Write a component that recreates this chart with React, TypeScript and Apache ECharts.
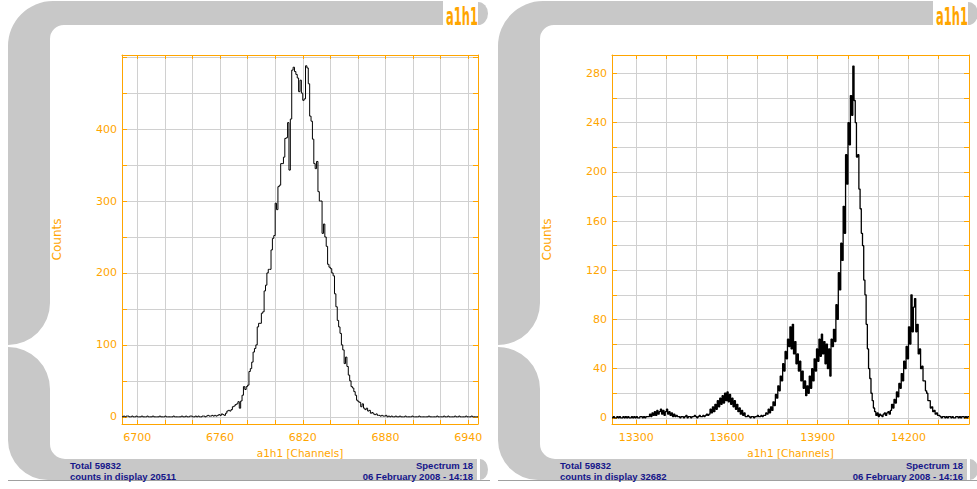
import React, { useEffect, useRef } from "react";
import * as echarts from "echarts";

// ---------- data ----------
const leftStart = 6689; // first channel of left spectrum (1 channel per bin)
const leftCounts = [
  0, 1, 0, 1, 1, 0, 0, 1, 0, 0,
  1, 0, 0, 0, 1, 0, 0, 0, 1, 0,
  0, 0, 1, 0, 0, 0, 0, 1, 0, 0,
  0, 1, 0, 0, 0, 0, 0, 1, 0, 0,
  0, 0, 0, 1, 0, 0, 1, 0, 0, 1,
  1, 0, 0, 1, 0, 1, 0, 0, 1, 1,
  0, 1, 2, 1, 1, 2, 1, 2, 1, 2,
  3, 2, 4, 3, 2, 5, 8, 9, 8, 10,
  14, 15, 17, 18, 21, 12, 22, 30, 42, 38,
  42, 44, 63, 67, 76, 90, 95, 100, 125, 130,
  130, 144, 146, 175, 183, 200, 205, 205, 232, 248,
  252, 297, 288, 320, 322, 352, 352, 361, 387, 388,
  409, 343, 414, 482, 486, 480, 476, 471, 452, 468,
  450, 440, 442, 488, 485, 463, 418, 411, 386, 352,
  345, 355, 313, 300, 300, 255, 268, 250, 237, 212,
  208, 206, 200, 196, 171, 153, 134, 125, 116, 100,
  93, 74, 83, 70, 58, 50, 42, 40, 35, 30,
  23, 21, 20, 14, 18, 12, 10, 12, 8, 9,
  5, 6, 4, 3, 4, 2, 2, 1, 2, 1,
  1, 2, 0, 1, 0, 1, 0, 0, 1, 0,
  0, 1, 0, 0, 0, 1, 0, 0, 0, 0,
  1, 0, 0, 0, 0, 1, 0, 0, 0, 0,
  0, 0, 1, 0, 0, 0, 0, 0, 1, 0,
  0, 0, 0, 1, 0, 0, 1, 0, 0, 0,
  0, 1, 0, 0, 1, 0, 0, 0, 0, 1,
  0, 0, 0, 1, 0, 0, 0, 0,
];

const rightStart = 13220; // first channel of right spectrum
const rightBinWidth = 4; // channels per plotted bin
const rightCounts = [
  // 13220 - 13336
  0, 1, 0, 0, 1, 0, 1, 0, 0, 1, 0, 1, 0, 1, 0, 0, 1, 0, 1, 0, 1, 0, 0, 1, 1, 0, 1, 0, 1, 1,
  // 13340 - 13436
  1, 3, 1, 4, 2, 5, 2, 6, 3, 5, 7, 3, 6, 2, 5, 7, 3, 5, 2, 4, 1, 3, 1, 2, 1,
  // 13440 - 13536
  1, 0, 1, 1, 0, 1, 2, 0, 1, 1, 0, 1, 1, 2, 1, 0, 1, 2, 1, 1, 2, 1, 2, 3, 2,
  // 13540 - 13660
  3, 7, 4, 9, 5, 11, 7, 14, 9, 16, 11, 18, 12, 20, 14, 21, 13, 19, 11, 16, 9, 14, 7, 11, 5, 8, 3, 6, 2, 4, 1,
  // 13664 - 13720
  1, 2, 1, 0, 1, 1, 0, 1, 1, 2, 1, 1, 2, 1, 2,
  // 13724 - 13800
  2, 4, 3, 7, 4, 9, 6, 13, 10, 19, 16, 26, 22, 34, 30, 44, 38, 54, 48, 64,
  // 13804 - 13860
  58, 74, 56, 76, 52, 62, 44, 52, 38, 46, 30, 38, 24, 30, 18,
  // 13864 - 13948
  26, 20, 34, 24, 40, 30, 48, 38, 56, 46, 64, 50, 68, 52, 62, 44, 60, 40, 56, 34, 64, 58,
  // 13952 - 14060
  72, 62, 92, 80, 118, 104, 142, 128, 172, 150, 214, 190, 240, 222, 262, 246, 286, 258, 240, 212, 214, 186, 170, 150, 140, 112, 100, 76,
  // 14064 - 14136
  56, 40, 32, 20, 14, 8, 5, 2, 4, 1, 3, 2, 1, 3, 4, 2, 4, 5, 3,
  // 14140 - 14300
  6, 11, 8, 15, 12, 21, 17, 28, 24, 36, 30, 46, 40, 58, 48, 74, 60, 100, 70, 90, 97, 70, 76, 52, 56, 40, 42, 30, 30, 22, 20, 14, 14, 8, 9, 5, 6, 3, 4, 2, 2,
  // 14304 - 14396
  1, 0, 1, 1, 0, 1, 0, 1, 1, 0, 1, 0, 0, 1, 1, 0, 1, 0, 1, 1, 0, 1, 0, 1,
];

const leftXRange = [6689, 6947];
const leftYRange = [-10, 503];
const rightXRange = [13220, 14400];
const rightYRange = [-5, 295];
const leftXStep = 20;
const leftYStep = 50;
const rightXStep = 100;
const rightYStep = 20;
const leftXLabels = [6700, 6760, 6820, 6880, 6940];
const leftYLabels = [0, 100, 200, 300, 400];
const rightXLabels = [13300, 13600, 13900, 14200];
const rightYLabels = [0, 40, 80, 120, 160, 200, 240, 280];

const xAxisTitle = "a1h1 [Channels]";
const yAxisTitle = "Counts";
const logoText = "a1h1";
const panelInfo = [
  { total: "Total 59832", display: "counts in display 20511", spectrum: "Spectrum 18", date: "06 February 2008 - 14:18" },
  { total: "Total 59832", display: "counts in display 32682", spectrum: "Spectrum 18", date: "06 February 2008 - 14:16" },
];

// ---------- styling ----------
const ORANGE = "#ffa500";
const FRAME_GRAY = "#c8c8c8";
const NAVY = "#15168a";
const GRID_GRAY = "#d0d0d0";
const PANEL_OFFSETS = [0, 490];

const FRAME_UPPER =
  "M8,345 L8,46 A45,45 0 0 1 53,1 L443,1 L443,25 L64,25 A14,14 0 0 0 50,39 L50,303 A42,42 0 0 1 8,345 Z";
const FRAME_LOWER =
  "M8,347 A42,42 0 0 1 50,389 L50,444 A15,15 0 0 0 65,459 L477,459 L477,480 L48,480 A40,40 0 0 1 8,440 Z";
const D_TOP = "M478,2 A10,11.5 0 0 1 478,25 Z";
const D_BOTTOM = "M480,459 A8,10.5 0 0 1 480,480 Z";

let shapesRegistered = false;
function registerShapes() {
  if (shapesRegistered) return;
  echarts.graphic.registerShape("frameUpper", echarts.graphic.extendPath(FRAME_UPPER, {}));
  echarts.graphic.registerShape("frameLower", echarts.graphic.extendPath(FRAME_LOWER, {}));
  echarts.graphic.registerShape("dTop", echarts.graphic.extendPath(D_TOP, {}));
  echarts.graphic.registerShape("dBottom", echarts.graphic.extendPath(D_BOTTOM, {}));
  shapesRegistered = true;
}

function histData(start: number, width: number, counts: number[]) {
  const d = counts.map((v, i) => [start + i * width, v]);
  d.push([start + counts.length * width, counts[counts.length - 1]]);
  return d;
}

function labelFormatter(labels: number[]) {
  return (v: number) => (labels.indexOf(v) >= 0 ? String(v) : "");
}

function makeAxis(o: {
  gridIndex: number;
  position: string;
  range: number[];
  step: number;
  labels?: number[];
  name?: string;
  nameGap?: number;
  nameSize?: number;
  split: boolean;
  tickLen: number;
  labelMargin?: number;
}) {
  const span = o.range[1] - o.range[0];
  return {
    type: "value",
    gridIndex: o.gridIndex,
    position: o.position,
    min: o.range[0],
    max: o.range[1],
    minInterval: o.step,
    maxInterval: o.step,
    splitNumber: Math.round(span / o.step),
    axisLine: { show: true, onZero: false, lineStyle: { color: ORANGE, width: 1 } },
    axisTick: { show: true, inside: true, length: o.tickLen, lineStyle: { color: ORANGE, width: 1 } },
    axisLabel: o.labels
      ? {
          show: true,
          color: ORANGE,
          fontFamily: "DejaVu Sans",
          fontSize: 11,
          margin: o.labelMargin ?? 8,
          formatter: labelFormatter(o.labels),
        }
      : { show: false },
    splitLine: o.split ? { show: true, lineStyle: { color: GRID_GRAY, width: 1 } } : { show: false },
    name: o.name,
    nameLocation: "middle",
    nameGap: o.nameGap ?? 20,
    nameTextStyle: { color: ORANGE, fontFamily: "DejaVu Sans", fontSize: o.nameSize ?? 11 },
  };
}

function panelGraphics(ox: number, info: typeof panelInfo[number]) {
  const textFont = 'bold 9.5px "Liberation Sans"';
  return [
    { type: "frameUpper", x: ox, y: 0, silent: true, style: { fill: FRAME_GRAY } },
    { type: "frameLower", x: ox, y: 0, silent: true, style: { fill: FRAME_GRAY } },
    { type: "dTop", x: ox, y: 0, silent: true, style: { fill: FRAME_GRAY } },
    { type: "dBottom", x: ox, y: 0, silent: true, style: { fill: FRAME_GRAY } },
    {
      type: "line",
      silent: true,
      shape: { x1: ox + 8, y1: 480.5, x2: ox + 490, y2: 480.5 },
      style: { stroke: "#a0a0a0", lineWidth: 1 },
    },
    {
      type: "text",
      x: ox + 446,
      y: 16.4,
      scaleX: 0.46,
      silent: true,
      style: {
        text: logoText,
        fill: ORANGE,
        font: 'bold 25px "DejaVu Sans"',
        align: "left",
        textAlign: "left",
        verticalAlign: "middle",
        textVerticalAlign: "middle",
      },
    },
    {
      type: "text",
      x: ox + 70,
      y: 465.5,
      silent: true,
      style: { text: info.total, fill: NAVY, font: textFont, align: "left", textAlign: "left", verticalAlign: "middle", textVerticalAlign: "middle" },
    },
    {
      type: "text",
      x: ox + 70,
      y: 476,
      silent: true,
      style: { text: info.display, fill: NAVY, font: textFont, align: "left", textAlign: "left", verticalAlign: "middle", textVerticalAlign: "middle" },
    },
    {
      type: "text",
      x: ox + 473,
      y: 465.5,
      silent: true,
      style: { text: info.spectrum, fill: NAVY, font: textFont, align: "right", textAlign: "right", verticalAlign: "middle", textVerticalAlign: "middle" },
    },
    {
      type: "text",
      x: ox + 473,
      y: 476,
      silent: true,
      style: { text: info.date, fill: NAVY, font: textFont, align: "right", textAlign: "right", verticalAlign: "middle", textVerticalAlign: "middle" },
    },
  ];
}

export default function App() {
  const ref = useRef<HTMLDivElement>(null);

  useEffect(() => {
    if (!ref.current) return;
    registerShapes();
    const chart = echarts.init(ref.current, undefined, { renderer: "svg" });

    const option = {
      animation: false,
      backgroundColor: "#ffffff",
      grid: [
        { left: 122, top: 55, width: 356, height: 369, containLabel: false },
        { left: 612, top: 55, width: 357, height: 369, containLabel: false },
      ],
      xAxis: [
        makeAxis({ gridIndex: 0, position: "bottom", range: leftXRange, step: leftXStep, labels: leftXLabels, name: xAxisTitle, nameGap: 20, nameSize: 10.5, split: true, tickLen: 4 }),
        makeAxis({ gridIndex: 0, position: "top", range: leftXRange, step: leftXStep, split: false, tickLen: 4 }),
        makeAxis({ gridIndex: 1, position: "bottom", range: rightXRange, step: rightXStep, labels: rightXLabels, name: xAxisTitle, nameGap: 20, nameSize: 10.5, split: true, tickLen: 4 }),
        makeAxis({ gridIndex: 1, position: "top", range: rightXRange, step: rightXStep, split: false, tickLen: 4 }),
      ],
      yAxis: [
        makeAxis({ gridIndex: 0, position: "left", range: leftYRange, step: leftYStep, labels: leftYLabels, name: yAxisTitle, nameGap: 59, nameSize: 12, split: true, tickLen: 5, labelMargin: 5 }),
        makeAxis({ gridIndex: 0, position: "right", range: leftYRange, step: leftYStep, split: false, tickLen: 5 }),
        makeAxis({ gridIndex: 1, position: "left", range: rightYRange, step: rightYStep, labels: rightYLabels, name: yAxisTitle, nameGap: 59, nameSize: 12, split: true, tickLen: 5, labelMargin: 5 }),
        makeAxis({ gridIndex: 1, position: "right", range: rightYRange, step: rightYStep, split: false, tickLen: 5 }),
      ],
      series: [
        {
          type: "line",
          xAxisIndex: 0,
          yAxisIndex: 0,
          step: "end",
          showSymbol: false,
          symbol: "none",
          silent: true,
          lineStyle: { color: "#000000", width: 1 },
          data: histData(leftStart, 1, leftCounts),
        },
        {
          type: "line",
          xAxisIndex: 2,
          yAxisIndex: 2,
          step: "end",
          showSymbol: false,
          symbol: "none",
          silent: true,
          lineStyle: { color: "#000000", width: 1.3 },
          data: histData(rightStart, rightBinWidth, rightCounts),
        },
      ],
      graphic: [
        ...panelGraphics(PANEL_OFFSETS[0], panelInfo[0]),
        ...panelGraphics(PANEL_OFFSETS[1], panelInfo[1]),
      ],
    };

    chart.setOption(option as any);
    return () => {
      chart.dispose();
    };
  }, []);

  return (
    <div
      ref={ref}
      style={{ position: "absolute", left: 0, top: 0, width: 977, height: 489, background: "#ffffff" }}
    />
  );
}
